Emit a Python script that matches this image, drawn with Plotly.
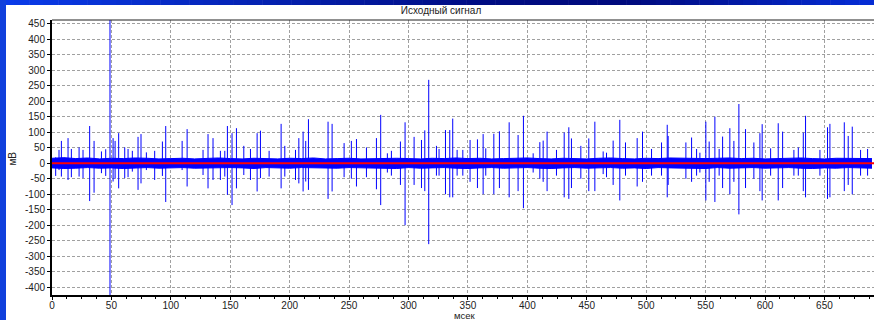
import plotly.graph_objects as go

# --- signal data -----------------------------------------------------------
# spike events: time (ms), positive peak (mV), negative peak (mV)
spike_t = [3.1, 5.9, 7.9, 13.5, 16.3, 22.8, 26.1, 31.7, 35.4, 41.6,
           45.2, 48.8, 51.4, 53.1, 56.1, 61.2, 64.0, 67.6, 72.4, 74.9,
           79.4, 86.4, 92.9, 95.7, 109.5, 113.7, 127.1, 131.3, 135.5, 141.7,
           145.4, 147.6, 151.5, 155.2, 161.4, 167.0, 172.6, 175.4, 182.7, 192.8,
           195.9, 204.9, 207.7, 211.3, 213.5, 215.8, 232.3, 235.7, 245.8, 251.9,
           256.2, 264.6, 273.0, 276.6, 282.2, 285.6, 293.2, 297.1, 304.7, 310.9,
           313.7, 317.0, 323.5, 325.7, 331.1, 334.7, 337.2, 340.9, 345.7, 351.8,
           358.0, 362.8, 365.0, 371.8, 376.5, 384.7, 392.2, 396.7, 404.9, 410.5,
           413.3, 416.6, 424.5, 431.0, 434.9, 437.1, 445.0, 451.7, 456.8, 463.8,
           466.6, 472.2, 477.8, 482.6, 492.4, 496.9, 504.5, 512.9, 517.7, 518.5,
           533.4, 538.2, 542.4, 545.2, 550.2, 553.0, 557.8, 561.4, 564.3, 570.4,
           573.8, 578.0, 583.6, 590.6, 595.7, 597.6, 604.7, 611.1, 614.8, 624.3,
           628.0, 632.2, 634.1, 646.2, 652.6, 654.6, 666.7, 670.0, 673.4, 680.4,
           686.3]
spike_max = [19, 43, 72, 81, 46, 51, 43, 120, 72, 38,
             45, 480, 81, 72, 97, 51, 46, 40, 85, 94,
             35, 40, 70, 120, 72, 110, 43, 94, 81, 40,
             40, 120, 97, 113, 56, 46, 97, 105, 40, 127,
             56, 43, 81, 102, 72, 142, 134, 127, 65, 72,
             78, 51, 81, 156, 32, 40, 70, 132, 85, 75,
             106, 269, 56, 46, 107, 107, 144, 43, 43, 75,
             77, 94, 48, 95, 103, 132, 91, 153, 32, 68,
             73, 102, 43, 99, 116, 80, 56, 80, 134, 38,
             34, 73, 140, 67, 81, 102, 46, 67, 124, 88,
             67, 83, 46, 34, 134, 70, 150, 46, 86, 113,
             72, 191, 110, 67, 97, 126, 48, 129, 102, 43,
             51, 99, 153, 43, 116, 127, 132, 88, 118, 43,
             46]
spike_min = [-41, -22, -43, -54, -45, -43, -48, -122, -95, -32,
             -41, -440, -59, -50, -81, -48, -45, -27, -86, -65,
             -22, -54, -41, -125, -22, -75, -38, -81, -54, -54,
             -43, -102, -135, -81, -38, -54, -91, -48, -43, -81,
             -43, -54, -65, -91, -59, -86, -115, -91, -45, -50,
             -75, -45, -84, -135, -30, -40, -70, -200, -70, -80,
             -90, -261, -40, -40, -100, -110, -110, -40, -40, -60,
             -80, -100, -40, -100, -80, -110, -90, -145, -30, -50,
             -60, -90, -40, -110, -115, -80, -50, -90, -90, -35,
             -45, -70, -120, -40, -75, -60, -40, -40, -110, -70,
             -50, -60, -40, -30, -120, -60, -125, -40, -80, -100,
             -60, -165, -80, -50, -90, -120, -40, -120, -80, -40,
             -40, -90, -110, -40, -115, -110, -90, -70, -100, -40,
             -40]

# background activity envelope, sampled every 10 ms
noise_t = list(range(0, 700, 10))
noise_hi = [16, 18, 15, 17, 14, 16, 15, 17, 16, 14,
            15, 16, 14, 15, 17, 15, 14, 16, 15, 14,
            16, 15, 17, 14, 15, 16, 14, 15, 17, 16,
            15, 14, 16, 15, 17, 15, 16, 14, 15, 16,
            17, 15, 14, 16, 15, 14, 16, 17, 15, 14,
            16, 15, 17, 16, 14, 15, 16, 17, 15, 16,
            14, 15, 16, 17, 15, 14, 16, 15, 16, 15]
noise_lo = [-15, -17, -16, -14, -16, -15, -17, -15, -14, -16,
            -15, -14, -16, -15, -16, -14, -15, -17, -14, -15,
            -16, -14, -15, -17, -16, -14, -15, -16, -15, -17,
            -14, -16, -15, -14, -16, -17, -15, -14, -16, -15,
            -14, -16, -17, -15, -14, -16, -15, -14, -16, -15,
            -17, -14, -15, -16, -15, -17, -14, -16, -15, -14,
            -16, -15, -14, -16, -17, -15, -16, -14, -15, -16]

baseline_mv = 0.0

x_ticks = [0, 50, 100, 150, 200, 250, 300, 350, 400, 450, 500, 550, 600, 650]
y_ticks = [-400, -350, -300, -250, -200, -150, -100, -50, 0,
           50, 100, 150, 200, 250, 300, 350, 400, 450]

X_RANGE = [0, 691.7]
Y_RANGE = [-425, 462]

W, H = 874, 320
ML, MR, MT, MB = 52, 0, 20, 25

# --- figure ------------------------------------------------------------------
fig = go.Figure()

fig.add_trace(go.Scatter(x=noise_t, y=noise_lo, mode="lines",
                         line=dict(color="#0000ff", width=1),
                         hoverinfo="skip", showlegend=False))
fig.add_trace(go.Scatter(x=noise_t, y=noise_hi, mode="lines",
                         line=dict(color="#0000ff", width=1),
                         fill="tonexty", fillcolor="#0000ff",
                         hoverinfo="skip", showlegend=False))

sx, sy = [], []
for t, hi, lo in zip(spike_t, spike_max, spike_min):
    sx += [t, t, None]
    sy += [lo, hi, None]
fig.add_trace(go.Scatter(x=sx, y=sy, mode="lines",
                         line=dict(color="#0000ff", width=1),
                         connectgaps=False, hoverinfo="skip", showlegend=False))

shapes = []
# zero baseline
shapes.append(dict(type="line", xref="paper", yref="y", x0=0, x1=1,
                   y0=baseline_mv, y1=baseline_mv,
                   line=dict(color="#ff0000", width=2), layer="above"))

# window frame: blue gradient strips along the top and the left edge
pw = W - ML - MR
ph = H - MT - MB


def px_to_paper_x(px):
    return (px - ML) / pw


def py_to_paper_y(py):
    return (H - MB - py) / ph


def lerp(c1, c2, f):
    return tuple(int(round(a + (b - a) * f)) for a, b in zip(c1, c2))


stops = [(0.0, (10, 60, 235)), (0.55, (0, 12, 130)), (0.72, (0, 10, 125)),
         (1.0, (5, 45, 215))]
n = 60
for i in range(n):
    f = (i + 0.5) / n
    for (p0, c0), (p1, c1) in zip(stops[:-1], stops[1:]):
        if p0 <= f <= p1:
            col = lerp(c0, c1, (f - p0) / (p1 - p0))
            break
    shapes.append(dict(type="rect", xref="paper", yref="paper",
                       x0=px_to_paper_x(W * i / n), x1=px_to_paper_x(W * (i + 1) / n + 0.5),
                       y0=py_to_paper_y(5), y1=py_to_paper_y(0),
                       fillcolor="rgb(%d,%d,%d)" % col, line=dict(width=0),
                       layer="above"))
shapes.append(dict(type="rect", xref="paper", yref="paper",
                   x0=px_to_paper_x(0), x1=px_to_paper_x(6),
                   y0=py_to_paper_y(H), y1=py_to_paper_y(0),
                   fillcolor="#1040dc", line=dict(width=0), layer="above"))
# top border of the plotting area
shapes.append(dict(type="line", xref="paper", yref="paper", x0=0, x1=1,
                   y0=1, y1=1, line=dict(color="#202020", width=1)))

font = "Liberation Sans, Arial, sans-serif"

fig.update_layout(
    width=W, height=H,
    margin=dict(l=ML, r=MR, t=MT, b=MB, pad=0),
    paper_bgcolor="white", plot_bgcolor="white",
    showlegend=False,
    shapes=shapes,
    title=dict(text="Исходный сигнал", x=441 / W, xref="container",
               xanchor="center", y=1 - 10.5 / H, yref="container", yanchor="middle",
               font=dict(family=font, size=10, color="#222222")),
    annotations=[
        dict(text="мВ", xref="paper", yref="paper", x=px_to_paper_x(12.5),
             y=py_to_paper_y(159), textangle=-90, showarrow=False,
             xanchor="center", yanchor="middle",
             font=dict(family=font, size=10, color="#222222")),
        dict(text="мсек", xref="paper", yref="paper", x=px_to_paper_x(465),
             y=py_to_paper_y(315.5), showarrow=False,
             xanchor="center", yanchor="middle", borderpad=0,
             font=dict(family=font, size=9.5, color="#222222")),
    ],
)

fig.update_xaxes(range=X_RANGE, tickvals=x_ticks, ticktext=[str(v) for v in x_ticks],
                 showgrid=True, gridcolor="#a0a0a0", griddash="3px,2px", gridwidth=1,
                 zeroline=False, showline=True, linecolor="black", linewidth=2,
                 ticks="outside", ticklen=3, tickcolor="black", tickwidth=1,
                 ticklabelstandoff=-3,
                 minor=dict(dtick=12.5, tick0=0, ticks="outside", ticklen=2,
                            tickcolor="black", showgrid=False),
                 tickfont=dict(family=font, size=10, color="#222222"))
fig.update_yaxes(range=Y_RANGE, tickvals=y_ticks, ticktext=[str(v) for v in y_ticks],
                 showgrid=True, gridcolor="#a0a0a0", griddash="3px,2px", gridwidth=1,
                 zeroline=False, showline=True, linecolor="black", linewidth=2,
                 ticks="outside", ticklen=3, tickcolor="black", tickwidth=1,
                 tickfont=dict(family=font, size=10, color="#222222"))

fig.write_html("out.html")
